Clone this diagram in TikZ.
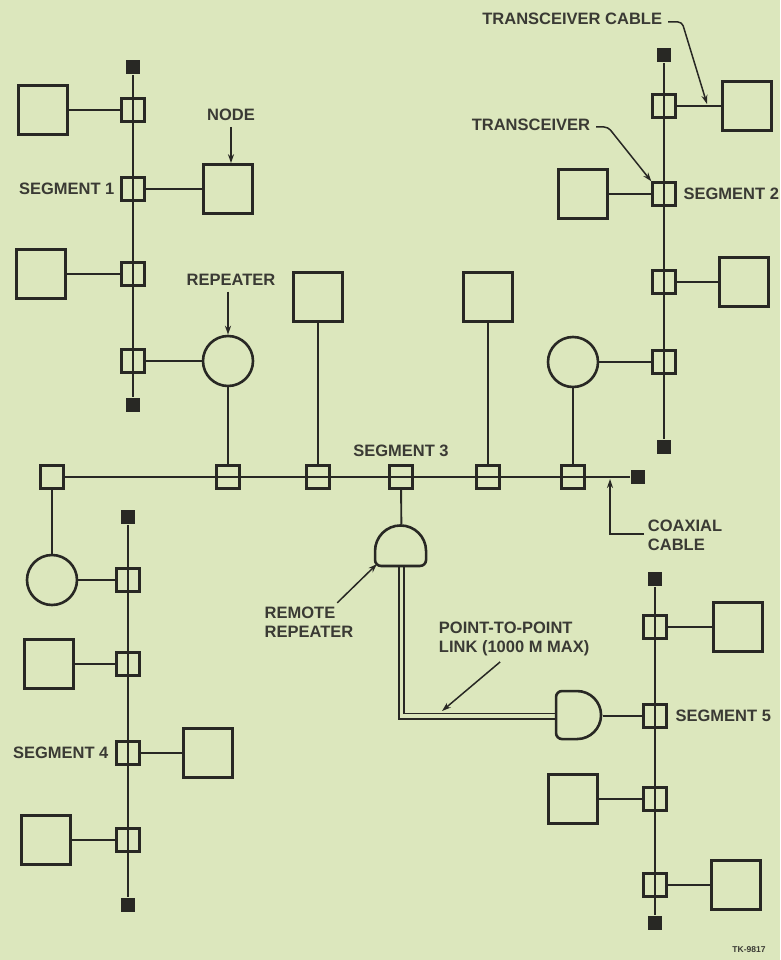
\documentclass[tikz,border=0pt]{standalone}
\usepackage{fontspec}
\setmainfont{Liberation Sans}
\usepackage{xcolor}
\usepackage{tikz}
\usetikzlibrary{positioning,arrows.meta}
\definecolor{paper}{RGB}{220,231,189}
\definecolor{ink}{RGB}{40,40,36}
\definecolor{inktext}{RGB}{58,58,52}

\begin{document}
\begin{tikzpicture}[
x=1pt,y=-1pt,
line width=1.9pt,
draw=ink,
station/.style={draw,line width=2.6pt,minimum size=49pt,inner sep=0pt},
xcvr/.style={draw,line width=2.3pt,minimum size=23pt,inner sep=0pt},
term/.style={fill=ink,minimum size=14pt,inner sep=0pt},
rptr/.style={draw,circle,line width=2.6pt,minimum size=50pt,inner sep=0pt},
domebox/.style={minimum width=#1,inner sep=0pt},
dome/.style={line width=2.6pt},
bus/.style={line width=2.4pt},
link/.style={double=paper,double distance=3.6pt,line width=1.7pt},
lbl/.style={text=inktext,font=\bfseries\fontsize{16.5}{19}\selectfont,inner sep=0pt,align=left},
tip/.style={-{Stealth[length=9pt,width=6pt]},line width=1.5pt}
]
\fill[paper] (0,0) rectangle (780,960);

% segment 1
\node[term] (t1a) at (133,67) {};
\node[term] (t1b) at (133,405) {};
\node[xcvr] (tr11) at (133,110) {};
\node[xcvr] (tr12) at (133,189) {};
\node[xcvr] (tr13) at (133,274) {};
\node[xcvr] (tr14) at (133,361) {};
\node[station] (n11) at (43,110) {};
\node[station] (n12) at (228,189) {};
\node[station] (n13) at (41,274) {};
\node[rptr] (rep1) at (228,361) {};

% segment 2
\node[term] (t2a) at (664,55) {};
\node[term] (t2b) at (664,447) {};
\node[xcvr] (tr21) at (664,106) {};
\node[xcvr] (tr22) at (664,194) {};
\node[xcvr] (tr23) at (664,282) {};
\node[xcvr] (tr24) at (664,362) {};
\node[station] (n21) at (747,106) {};
\node[station] (n22) at (583,194) {};
\node[station] (n23) at (744,282) {};
\node[rptr] (rep2) at (573,362) {};

% segment 3
\node[xcvr] (tr30) at (52,477) {};
\node[xcvr] (tr31) at (228,477) {};
\node[xcvr] (tr32) at (318,477) {};
\node[xcvr] (tr33) at (401,477) {};
\node[xcvr] (tr34) at (488,477) {};
\node[xcvr] (tr35) at (573,477) {};
\node[term] (t3) at (638,477) {};
\node[station] (n31) at (318,297) {};
\node[station] (n32) at (488,297) {};
\node[rptr] (rep3) at (52,580) {};
\node[domebox=51pt,minimum height=40pt] (rr1) at (401.5,545) {};

% segment 4
\node[term] (t4a) at (128,517) {};
\node[term] (t4b) at (128,905) {};
\node[xcvr] (tr41) at (128,580) {};
\node[xcvr] (tr42) at (128,664) {};
\node[xcvr] (tr43) at (128,753) {};
\node[xcvr] (tr44) at (128,840) {};
\node[station] (n41) at (49,664) {};
\node[station] (n42) at (208,753) {};
\node[station] (n43) at (46,840) {};

% segment 5
\node[term] (t5a) at (655,579) {};
\node[term] (t5b) at (655,923) {};
\node[xcvr] (tr51) at (655,627) {};
\node[xcvr] (tr52) at (655,716) {};
\node[xcvr] (tr53) at (655,799) {};
\node[xcvr] (tr54) at (655,885) {};
\node[station] (n51) at (738,627) {};
\node[domebox=45pt,minimum height=48pt] (rr2) at (579.5,716) {};
\node[station] (n52) at (573,799) {};
\node[station] (n53) at (736,885) {};

% coax
\draw[bus] (t1a) -- (t1b);
\draw[bus] (t2a) -- (t2b);
\draw[bus] (tr30) -- (t3);
\draw[bus] (t4a) -- (t4b);
\draw[bus] (t5a) -- (t5b);

% transceiver cables
\draw (n11) -- (tr11);
\draw (tr12) -- (n12);
\draw (n13) -- (tr13);
\draw (tr14) -- (rep1);
\draw (tr21) -- (n21);
\draw (n22) -- (tr22);
\draw (tr23) -- (n23);
\draw (rep2) -- (tr24);
\draw (rep1) -- (tr31);
\draw (n31) -- (tr32);
\draw (tr33) -- (rr1);
\draw (n32) -- (tr34);
\draw (rep2) -- (tr35);
\draw (tr30) -- (rep3);
\draw (rep3) -- (tr41);
\draw (n41) -- (tr42);
\draw (tr43) -- (n42);
\draw (n43) -- (tr44);
\draw (tr51) -- (n51);
\draw (rr2) -- (tr52);
\draw (n52) -- (tr53);
\draw (tr54) -- (n53);

% point-to-point link and remote repeaters
\draw[link] (rr1.south) |- (rr2.west);
\draw[dome] ([yshift=15pt]rr1.south west) arc[start angle=180,end angle=360,radius=25.5]
  -- ++(0,9) arc[start angle=0,end angle=90,radius=6] -- ++(-39,0)
  arc[start angle=90,end angle=180,radius=6] -- cycle;
\draw[dome] ([yshift=-6pt]rr2.north west) arc[start angle=180,end angle=270,radius=6]
  -- ++(15,0) arc[start angle=270,end angle=450,radius=24] -- ++(-15,0)
  arc[start angle=90,end angle=180,radius=6] -- cycle;

% labels
\node[lbl] (nodelbl) at (231,115) {NODE};
\draw[tip,shorten <=5pt] (nodelbl.south) -- (nodelbl.south |- n12.north);
\node[lbl] (replbl) at (231,280) {REPEATER};
\draw[tip,shorten <=5pt] (replbl.south -| rep1.north) -- (rep1.north);
\node[lbl,left=5pt of tr12] {SEGMENT 1};
\node[lbl,right=6pt of tr22] {SEGMENT 2};
\node[lbl,above=7pt of tr33] {SEGMENT 3};
\node[lbl,left=6pt of tr43] {SEGMENT 4};
\node[lbl,right=7pt of tr52] {SEGMENT 5};

\node[lbl,anchor=east] (cablelbl) at (663,19) {TRANSCEIVER CABLE};
\coordinate (cablept) at (707,104);
\draw[tip,rounded corners=4pt] ([xshift=5pt,yshift=-3pt]cablelbl.east) -- ++(14,0) -- (cablept);
\node[lbl,anchor=east] (xcvrlbl) at (591,125) {TRANSCEIVER};
\draw[tip,rounded corners=4pt] ([xshift=5pt,yshift=-2pt]xcvrlbl.east) -- ++(12,0) -- (tr22.north west);

\node[lbl,anchor=west] (coaxlbl) at (647,535) {COAXIAL\\CABLE};
\coordinate (coaxpt) at (610,479);
\draw[tip] ([xshift=-3pt,yshift=1pt]coaxlbl.west) -| (coaxpt);

\node[lbl] (rrlbl) at (309,622) {REMOTE\\REPEATER};
\draw[tip] ([xshift=-17pt,yshift=3pt]rrlbl.north east) -- ([xshift=2pt,yshift=2pt]rr1.south west);

\node[lbl,anchor=west] (p2plbl) at (438,639) {POINT-TO-POINT\\LINK (1000 M MAX)};
\coordinate (linkpt) at (442,711);
\draw[tip] ([xshift=-14pt,yshift=-5pt]p2plbl.south) -- (linkpt);

\node[text=inktext,font=\bfseries\fontsize{8.5}{10}\selectfont] (tklbl) at (749,950) {TK-9817};
\end{tikzpicture}
\end{document}
